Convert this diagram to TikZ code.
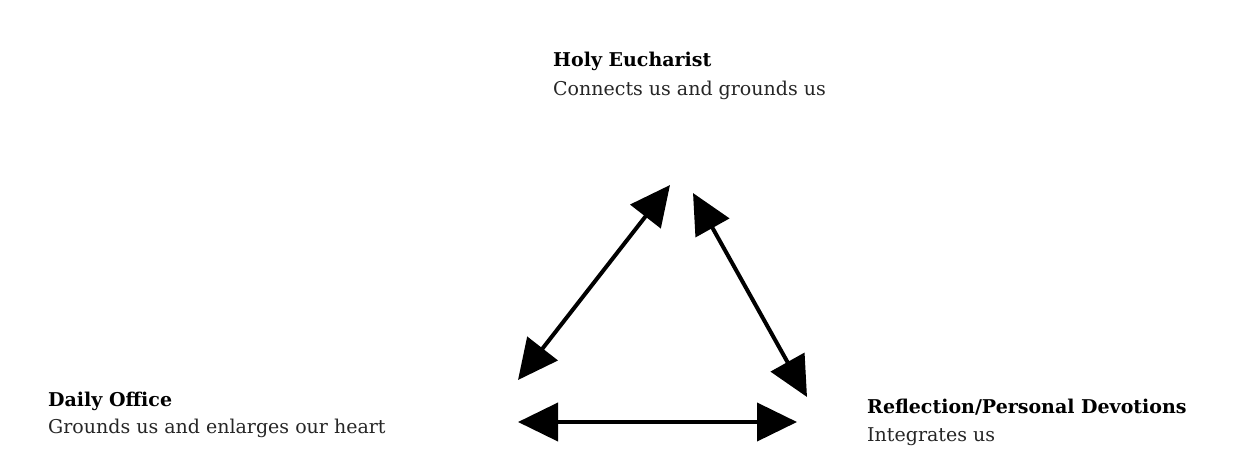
\documentclass[tikz,border=0pt]{standalone}
\usepackage{fontspec}
\setmainfont{DejaVu Serif}
\usetikzlibrary{arrows.meta}
\begin{document}
\begin{tikzpicture}[x=1pt,y=-1pt,
  title/.style={anchor=base west,inner sep=0pt,font=\fontsize{19}{22}\selectfont\bfseries,text=black},
  sub/.style={anchor=base west,inner sep=0pt,font=\fontsize{19}{22}\selectfont,text=black!85},
  dbl/.style={line width=4pt,{Triangle[length=40pt,width=38pt]}-{Triangle[length=40pt,width=38pt]}}]
\useasboundingbox[fill=white] (0,0) rectangle (1257,474);
\node[title] (he) at (553,66) {Holy Eucharist};
\node[sub] (hes) at (553,95) {Connects us and grounds us};
\node[title] (do) at (48,406) {Daily Office};
\node[sub] (dos) at (48,433) {Grounds us and enlarges our heart};
\node[title] (rp) at (867,413) {Reflection/Personal Devotions};
\node[sub] (rps) at (867,441) {Integrates us};
\coordinate (a1) at (670,185);
\coordinate (a2) at (518,380);
\coordinate (b1) at (693,193);
\coordinate (b2) at (807,397);
\coordinate (c1) at (518,422);
\coordinate (c2) at (797,422);
\draw[dbl] (a2) -- (a1);
\draw[dbl] (b1) -- (b2);
\draw[dbl] (c1) -- (c2);
\end{tikzpicture}
\end{document}
